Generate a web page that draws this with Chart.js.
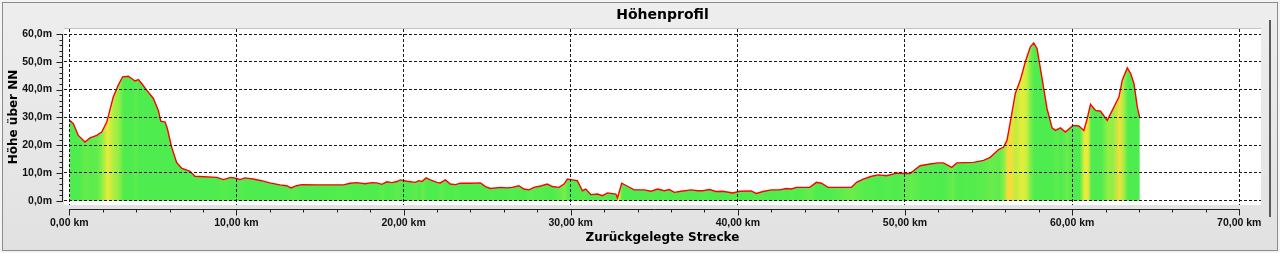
<!DOCTYPE html>
<html>
<head>
<meta charset="utf-8">
<script src="https://cdn.jsdelivr.net/npm/chart.js@4.4.1/dist/chart.umd.min.js"></script>
<style>
  html, body { margin: 0; padding: 0; width: 1280px; height: 253px; overflow: hidden; background: #f4f4f4; }
  #frame { position: absolute; left: 2px; top: 2px; width: 1274px; height: 247px; border: 1px solid #8c8c8c; background: linear-gradient(#eeeeee, #e1e1e1); }
  #splitter { position: absolute; left: 1269px; top: 20px; width: 2px; height: 197px; background: #5a5a5a; }
  canvas { position: absolute; left: 0; top: 0; }
</style>
</head>
<body>
<div id="frame"></div>
<div id="splitter"></div>
<canvas id="profileChart" width="1280" height="253"></canvas>
<script>
// distance along the track (km) and elevation (m)
const distanceKm = [
  0.00, 0.24, 0.54, 0.94, 1.24, 1.64, 1.94, 2.24, 2.63, 2.93, 3.19, 3.53, 3.73, 3.93, 4.13, 4.33,
  4.63, 5.03, 5.33, 5.47, 5.73, 5.87, 6.12, 6.42, 6.72, 7.22, 7.52, 8.82, 9.22, 9.66, 10.02, 10.21,
  10.5, 11.0, 11.5, 12.0, 12.6, 13.0, 13.27, 13.6, 13.9, 14.8, 16.4, 16.8, 17.2, 17.7, 18.1, 18.4,
  18.7, 19.0, 19.3, 19.6, 19.8, 20.2, 20.7, 20.9, 21.1, 21.35, 21.6, 22.0, 22.2, 22.5, 22.8, 23.1,
  23.4, 24.0, 24.6, 24.9, 25.2, 25.8, 26.2, 26.5, 26.9, 27.2, 27.5, 27.8, 28.2, 28.6, 28.9, 29.3,
  29.6, 29.8, 30.1, 30.4, 30.7, 30.9, 31.2, 31.6, 31.9, 32.2, 32.7, 32.8, 33.05, 33.4, 33.8, 34.4,
  34.8, 35.2, 35.6, 35.9, 36.2, 36.6, 37.2, 37.6, 37.9, 38.3, 38.7, 39.1, 39.7, 40.1, 40.8, 41.1,
  41.5, 42.0, 42.5, 42.9, 43.2, 43.5, 44.3, 44.7, 45.0, 45.4, 46.8, 47.1, 47.5, 48.0, 48.4, 48.9,
  49.5, 50.3, 50.9, 51.5, 52.0, 52.3, 52.8, 53.1, 54.1, 54.7, 55.1, 55.6, 55.9, 56.1, 56.3, 56.6,
  56.9, 57.2, 57.5, 57.7, 57.9, 58.2, 58.5, 58.8, 59.0, 59.3, 59.6, 60.05, 60.4, 60.7, 60.9, 61.1,
  61.4, 61.7, 62.1, 62.4, 62.8, 63.0, 63.3, 63.5, 63.7, 63.9, 64.05
];
const elevationM = [
  29.0, 27.7, 23.5, 21.1, 22.6, 23.5, 24.7, 28.3, 37.3, 41.6, 44.6, 44.8, 44.0, 43.1, 43.6, 42.2,
  39.8, 36.8, 32.5, 28.6, 28.3, 25.9, 19.3, 13.8, 11.7, 10.6, 8.8, 8.4, 7.6, 8.4, 8.0, 7.6,
  8.2, 7.8, 7.2, 6.4, 5.7, 5.4, 4.6, 5.4, 5.8, 5.7, 5.7, 6.3, 6.5, 6.1, 6.5, 6.4,
  5.9, 6.8, 6.5, 6.9, 7.5, 7.0, 6.6, 7.2, 6.9, 8.2, 7.5, 6.6, 6.4, 7.5, 6.0, 5.8,
  6.3, 6.3, 6.4, 5.1, 4.4, 4.8, 4.6, 4.8, 5.4, 4.2, 3.9, 4.8, 5.3, 6.0, 5.1, 4.8,
  6.0, 7.8, 7.5, 7.2, 3.6, 4.2, 2.2, 2.4, 1.8, 2.8, 2.4, 1.0, 6.3, 5.2, 3.9, 3.9,
  3.4, 4.2, 3.6, 4.0, 3.0, 3.4, 3.9, 3.6, 3.6, 4.0, 3.3, 3.4, 2.8, 3.4, 3.5, 2.6,
  3.3, 3.9, 3.9, 4.4, 4.2, 4.8, 4.8, 6.6, 6.3, 4.8, 4.8, 6.6, 7.8, 8.8, 9.3, 9.0,
  9.9, 9.8, 12.6, 13.2, 13.6, 13.6, 12.0, 13.6, 13.8, 14.5, 15.6, 18.4, 19.3, 21.7, 28.3, 38.6,
  43.4, 50.0, 55.4, 56.8, 54.8, 44.0, 33.1, 26.2, 25.3, 26.2, 24.7, 27.1, 26.9, 25.3, 29.5, 34.7,
  32.5, 32.2, 28.9, 32.5, 37.3, 43.4, 47.8, 45.8, 42.2, 33.7, 29.7
];
const xTickValues = [0, 10, 20, 30, 40, 50, 60, 70];
const yTickValues = [0, 10, 20, 30, 40, 50, 60];

const formatKm = v => v.toFixed(2).replace('.', ',') + ' km';
const formatM = v => v.toFixed(1).replace('.', ',') + 'm';

// uphill slope (%) -> fill colour, green on the flat, yellow on steep climbs
function slopeColor(pct) {
  const stops = [
    [0, [78, 236, 78]], [1, [128, 238, 72]], [1.5, [178, 238, 66]],
    [2, [226, 240, 60]], [3.2, [246, 220, 58]]
  ];
  const s = Math.max(0, Math.min(3.2, pct));
  for (let i = 0; i < stops.length - 1; i++) {
    const [a, ca] = stops[i];
    const [b, cb] = stops[i + 1];
    if (s <= b) {
      const t = (s - a) / (b - a);
      const c = ca.map((v, k) => Math.round(v + (cb[k] - v) * t));
      return `rgb(${c[0]},${c[1]},${c[2]})`;
    }
  }
  return 'rgb(246,220,58)';
}

function slopeGradient(context) {
  const chart = context.chart;
  const xScale = chart.scales.x;
  if (!chart.chartArea || !xScale) return slopeColor(0);
  const x0 = xScale.getPixelForValue(distanceKm[0]);
  const x1 = xScale.getPixelForValue(distanceKm[distanceKm.length - 1]);
  const g = chart.ctx.createLinearGradient(x0, 0, x1, 0);
  for (let i = 0; i < distanceKm.length - 1; i++) {
    const slope = (elevationM[i + 1] - elevationM[i]) / ((distanceKm[i + 1] - distanceKm[i]) * 10);
    const at = (xScale.getPixelForValue(distanceKm[i] + 0.05) - x0) / (x1 - x0);
    g.addColorStop(Math.max(0, Math.min(1, at)), slopeColor(slope));
  }
  return g;
}

// white plot panel behind everything
const panelBackground = {
  id: 'panelBackground',
  beforeDraw(chart) {
    const { ctx, chartArea: a } = chart;
    ctx.save();
    ctx.fillStyle = '#ffffff';
    ctx.fillRect(a.left, a.top, a.right - a.left, a.bottom - a.top);
    ctx.strokeStyle = '#c4c4c4';
    ctx.lineWidth = 1;
    ctx.beginPath();
    ctx.moveTo(a.left, a.top - 0.5);
    ctx.lineTo(a.right, a.top - 0.5);
    ctx.stroke();
    ctx.restore();
  }
};

// axis lines sit just outside the panel, with minor ticks every 2 units
const detachedAxes = {
  id: 'detachedAxes',
  afterDraw(chart) {
    const { ctx, chartArea: a, scales: { x, y } } = chart;
    const ax = Math.round(a.left - 2) + 0.5;
    const ay = Math.round(a.bottom + 4) + 0.5;
    ctx.save();
    ctx.strokeStyle = '#202020';
    ctx.lineWidth = 1;
    ctx.beginPath();
    ctx.moveTo(ax, Math.round(y.getPixelForValue(60)));
    ctx.lineTo(ax, Math.round(y.getPixelForValue(0)) + 1);
    for (let v = 0; v <= 60; v += 2) {
      const py = Math.round(y.getPixelForValue(v)) + 0.5;
      ctx.moveTo(ax, py);
      ctx.lineTo(ax - (v % 10 === 0 ? 6 : 3), py);
    }
    ctx.moveTo(Math.round(x.getPixelForValue(0)), ay);
    ctx.lineTo(Math.round(x.getPixelForValue(70)) + 1, ay);
    for (let v = 0; v <= 70; v += 2) {
      const px = Math.round(x.getPixelForValue(v)) + 0.5;
      ctx.moveTo(px, ay);
      ctx.lineTo(px, ay + (v % 10 === 0 ? 6 : 3));
    }
    ctx.stroke();
    ctx.restore();
  }
};

const tickFont = { family: 'Liberation Sans', weight: 'bold', size: 10.5 };
const titleFont = { family: 'DejaVu Sans', weight: 'bold', size: 12 };

new Chart(document.getElementById('profileChart'), {
  type: 'line',
  data: {
    datasets: [{
      data: distanceKm.map((d, i) => ({ x: d, y: elevationM[i] })),
      borderColor: '#ff0000',
      borderWidth: 1.4,
      backgroundColor: slopeGradient,
      fill: 'origin',
      pointRadius: 0,
      tension: 0
    }]
  },
  options: {
    responsive: false,
    devicePixelRatio: 1,
    animation: false,
    layout: { padding: { left: 0, right: 19, top: 0, bottom: 0 } },
    plugins: {
      legend: { display: false },
      tooltip: { enabled: false },
      title: {
        display: true,
        text: 'Höhenprofil',
        fullSize: false,
        color: '#000',
        font: { family: 'DejaVu Sans', weight: 'bold', size: 14 },
        padding: { top: 6.6, bottom: 5.6 }
      }
    },
    scales: {
      x: {
        type: 'linear',
        min: -0.317,
        max: 71.3,
        afterBuildTicks: s => { s.ticks = xTickValues.map(v => ({ value: v })); },
        afterFit: s => { s.height = 48; },
        ticks: { callback: v => formatKm(v), color: '#111', font: tickFont, padding: 12, maxRotation: 0, autoSkip: false },
        grid: { color: '#1a1a1a', lineWidth: 1, drawTicks: false, z: 1 },
        border: { display: false, dash: [3, 2] },
        title: { display: true, text: 'Zurückgelegte Strecke', color: '#000', font: titleFont, padding: { top: 0, bottom: 7.8 } }
      },
      y: {
        min: -1.548,
        max: 61.8,
        afterBuildTicks: s => { s.ticks = yTickValues.map(v => ({ value: v })); },
        afterFit: s => { s.width = 64; },
        ticks: { callback: v => formatM(v), color: '#111', font: tickFont, padding: 12 },
        grid: { color: '#1a1a1a', lineWidth: 1, drawTicks: false, z: 1 },
        border: { display: false, dash: [3, 2] },
        title: { display: true, text: 'Höhe über NN', color: '#000', font: titleFont, padding: { top: 6.8, bottom: 0 } }
      }
    }
  },
  plugins: [panelBackground, detachedAxes]
});
</script>
</body>
</html>
